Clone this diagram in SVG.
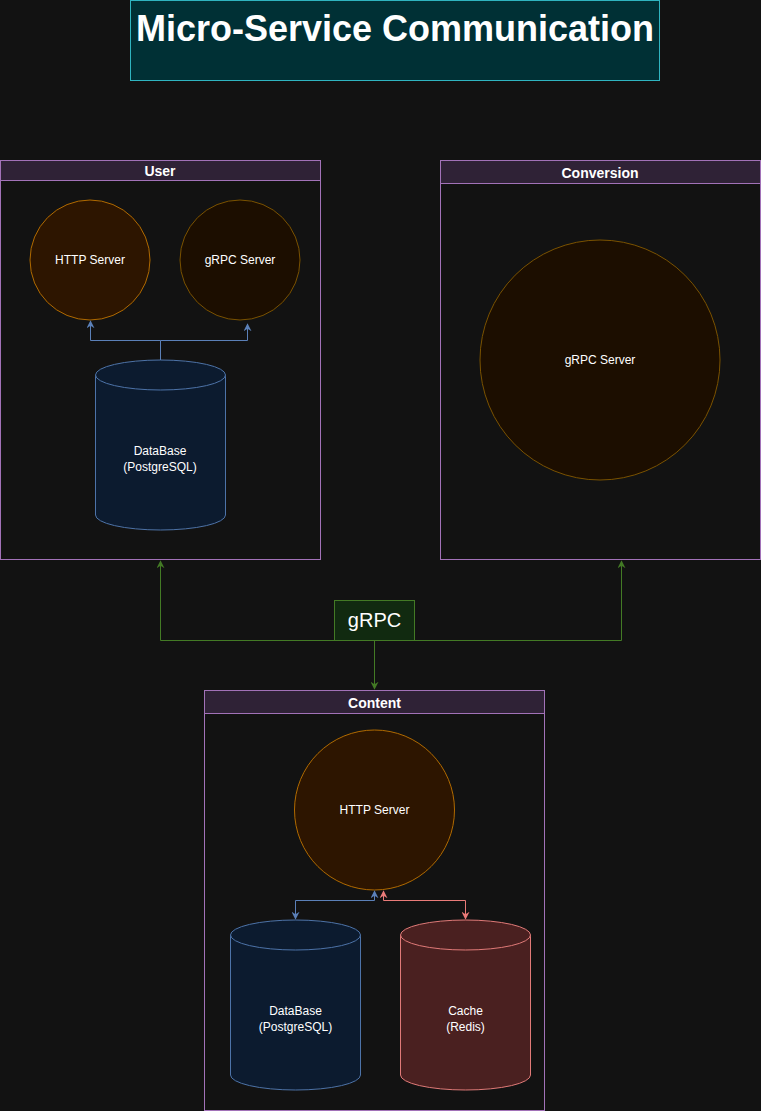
<svg xmlns="http://www.w3.org/2000/svg" width="761" height="1111" viewBox="0 0 761 1111">
<style>
text{font-family:"Liberation Sans",Arial,sans-serif;fill:#ffffff;text-anchor:middle}
.lbl{font-size:12px}
.hdr{font-size:14px;font-weight:bold}
.box{fill:#121212;stroke:#a272b8;stroke-width:1}
.bar{fill:#2f2236;stroke:#a272b8;stroke-width:1}
.http{fill:#2d1500;stroke:#b06a00;stroke-width:1}
.grpc{fill:#1c0e00;stroke:#7a5200;stroke-width:1}
.db{fill:#0c1b2f;stroke:#4d73a8;stroke-width:1}
.cache{fill:#4a2020;stroke:#e07a78;stroke-width:1}
.blue{fill:none;stroke:#5b80b8;stroke-width:1}
.red{fill:none;stroke:#ea7b79;stroke-width:1}
.green{fill:none;stroke:#437a25;stroke-width:1}
</style>
<defs>
<marker id="ab" viewBox="0 0 10 10" refX="9" refY="5" markerWidth="8" markerHeight="8" orient="auto-start-reverse" markerUnits="userSpaceOnUse"><path d="M0,0 L10,5 L0,10 L3,5 Z" fill="#5b80b8"/></marker>
<marker id="ar" viewBox="0 0 10 10" refX="9" refY="5" markerWidth="8" markerHeight="8" orient="auto-start-reverse" markerUnits="userSpaceOnUse"><path d="M0,0 L10,5 L0,10 L3,5 Z" fill="#ea7b79"/></marker>
<marker id="ag" viewBox="0 0 10 10" refX="9" refY="5" markerWidth="8" markerHeight="8" orient="auto-start-reverse" markerUnits="userSpaceOnUse"><path d="M0,0 L10,5 L0,10 L3,5 Z" fill="#437a25"/></marker>
</defs>
<rect width="761" height="1111" fill="#121212"/>

<g id="title">
<rect x="130.5" y="0.5" width="529" height="80" fill="#003035" stroke="#2fb4c0"/>
<text x="395" y="41" style="font-size:36px;font-weight:bold">Micro-Service Communication</text>
</g>

<g id="user">
<rect class="box" x="0.5" y="160.5" width="320" height="399"/>
<rect class="bar" x="0.5" y="160.5" width="320" height="20"/>
<text class="hdr" x="160" y="176">User</text>
</g>
<g id="user-http">
<circle class="http" cx="90" cy="260" r="60"/>
<text class="lbl" x="90" y="264">HTTP Server</text>
</g>
<g id="user-grpc">
<circle class="grpc" cx="240" cy="260" r="60"/>
<text class="lbl" x="240" y="264">gRPC Server</text>
</g>
<g id="user-db">
<path class="db" d="M95.5,375 A65,15 0 0 1 225.5,375 L225.5,515 A65,15 0 0 1 95.5,515 Z"/>
<path class="db" d="M95.5,375 A65,15 0 0 0 225.5,375" fill="none"/>
<text class="lbl" x="160" y="455">DataBase</text>
<text class="lbl" x="160" y="471">(PostgreSQL)</text>
</g>

<g id="conversion">
<rect class="box" x="440.5" y="160.5" width="320" height="399"/>
<rect class="bar" x="440.5" y="160.5" width="320" height="23"/>
<text class="hdr" x="600" y="178">Conversion</text>
</g>
<g id="conversion-grpc">
<circle class="grpc" cx="600" cy="360" r="120"/>
<text class="lbl" x="600" y="364">gRPC Server</text>
</g>

<g id="grpc-label">
<rect x="334.5" y="600.5" width="80" height="40" fill="#112a10" stroke="#437a25"/>
<text x="374.5" y="627" style="font-size:20px">gRPC</text>
</g>

<g id="content">
<rect class="box" x="204.5" y="690.5" width="340" height="420"/>
<rect class="bar" x="204.5" y="690.5" width="340" height="23"/>
<text class="hdr" x="374.5" y="708">Content</text>
</g>
<g id="content-http">
<circle class="http" cx="374.5" cy="810" r="80"/>
<text class="lbl" x="374.5" y="814">HTTP Server</text>
</g>
<g id="content-db">
<path class="db" d="M230.5,935 A65,15 0 0 1 360.5,935 L360.5,1075 A65,15 0 0 1 230.5,1075 Z"/>
<path class="db" d="M230.5,935 A65,15 0 0 0 360.5,935" fill="none"/>
<text class="lbl" x="295.5" y="1015">DataBase</text>
<text class="lbl" x="295.5" y="1031">(PostgreSQL)</text>
</g>
<g id="content-cache">
<path class="cache" d="M400.5,935 A65,15 0 0 1 530.5,935 L530.5,1075 A65,15 0 0 1 400.5,1075 Z"/>
<path class="cache" d="M400.5,935 A65,15 0 0 0 530.5,935" fill="none"/>
<text class="lbl" x="465.5" y="1015">Cache</text>
<text class="lbl" x="465.5" y="1031">(Redis)</text>
</g>

<g id="connectors">
<path class="blue" d="M160.5,360 L160.5,340.5 L90.5,340.5 L90.5,321" marker-end="url(#ab)"/>
<path class="blue" d="M160.5,340.5 L247.5,340.5 L247.5,324" marker-end="url(#ab)"/>
<path class="green" d="M374.5,640 L374.5,640.5 L160.5,640.5 L160.5,561" marker-end="url(#ag)"/>
<path class="green" d="M374.5,640.5 L621.5,640.5 L621.5,561" marker-end="url(#ag)"/>
<path class="green" d="M374.5,641 L374.5,689" marker-end="url(#ag)"/>
<path class="blue" d="M374.5,891 L374.5,900.5 L295.5,900.5 L295.5,919" marker-start="url(#ab)" marker-end="url(#ab)"/>
<path class="red" d="M383.5,891 L383.5,900.5 L465.5,900.5 L465.5,919" marker-start="url(#ar)" marker-end="url(#ar)"/>
</g>
</svg>
